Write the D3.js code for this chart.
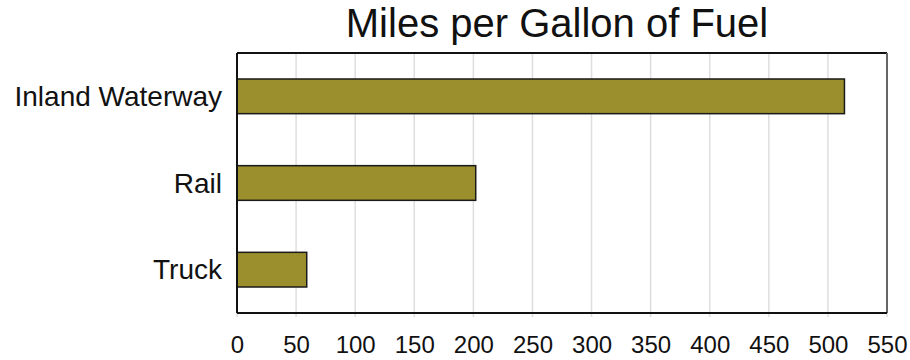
<!DOCTYPE html>
<html>
<head>
<meta charset="utf-8">
<script src="https://cdn.jsdelivr.net/npm/d3@7"></script>
<style>
  html, body { margin: 0; padding: 0; background: #fff; }
  svg { display: block; font-family: "Liberation Sans", Arial, Helvetica, sans-serif; }
</style>
</head>
<body>
<svg id="chart" width="910" height="360"></svg>
<script>
// Fuel efficiency by mode of freight transport
const categories = ["Inland Waterway", "Rail", "Truck"];
const milesPerGallon = [514, 202, 59];
const xTicks = [0, 50, 100, 150, 200, 250, 300, 350, 400, 450, 500, 550];
const chartTitle = "Miles per Gallon of Fuel";

const width = 910, height = 360;
const margin = { top: 53, right: 23, bottom: 47, left: 237 };
const innerW = width - margin.left - margin.right;
const innerH = height - margin.top - margin.bottom;

const svg = d3.select("#chart");
const g = svg.append("g").attr("transform", `translate(${margin.left},${margin.top})`);

const x = d3.scaleLinear().domain([0, 550]).range([0, innerW]);
const y = d3.scaleBand().domain(categories).range([0, innerH]).paddingInner(0.6).paddingOuter(0.3);

// vertical gridlines, continuing a few pixels below the frame as ticks
g.append("g")
  .selectAll("line")
  .data(xTicks)
  .join("line")
  .attr("x1", d => x(d)).attr("x2", d => x(d))
  .attr("y1", 0).attr("y2", innerH + 4)
  .attr("stroke", "#dedede")
  .attr("stroke-width", 1.5);

// bars
g.append("g")
  .selectAll("rect")
  .data(categories)
  .join("rect")
  .attr("x", x(0))
  .attr("y", d => y(d))
  .attr("width", (d, i) => x(milesPerGallon[i]) - x(0))
  .attr("height", y.bandwidth())
  .attr("fill", "#9a8f2c")
  .attr("stroke", "#1a1a1a")
  .attr("stroke-width", 1.5);

// frame
g.append("line").attr("x1", 0).attr("x2", innerW).attr("y1", 0).attr("y2", 0)
  .attr("stroke", "#111").attr("stroke-width", 2);
g.append("line").attr("x1", innerW).attr("x2", innerW).attr("y1", 0).attr("y2", innerH)
  .attr("stroke", "#666").attr("stroke-width", 2);
g.append("line").attr("x1", 0).attr("x2", innerW).attr("y1", innerH).attr("y2", innerH)
  .attr("stroke", "#111").attr("stroke-width", 2);
g.append("line").attr("x1", 0).attr("x2", 0).attr("y1", 0).attr("y2", innerH)
  .attr("stroke", "#111").attr("stroke-width", 2);

// x axis tick labels
const xAxis = d3.axisBottom(x).tickValues(xTicks).tickSize(0).tickPadding(0);
const xg = g.append("g").attr("transform", `translate(0,${innerH})`).call(xAxis);
xg.select(".domain").remove();
xg.selectAll("text")
  .attr("y", 40).attr("dy", null)
  .attr("font-size", 24)
  .attr("font-family", "Liberation Sans, Arial, sans-serif")
  .attr("fill", "#111");

// category labels
const yAxis = d3.axisLeft(y).tickSize(0).tickPadding(15);
const yg = g.append("g").call(yAxis);
yg.select(".domain").remove();
yg.selectAll("text")
  .attr("dy", "0.35em")
  .attr("font-size", 28)
  .attr("font-family", "Liberation Sans, Arial, sans-serif")
  .attr("fill", "#111");

// title
svg.append("text")
  .attr("x", 557)
  .attr("y", 37)
  .attr("text-anchor", "middle")
  .attr("font-size", 40)
  .attr("fill", "#111")
  .text(chartTitle);
</script>
</body>
</html>
